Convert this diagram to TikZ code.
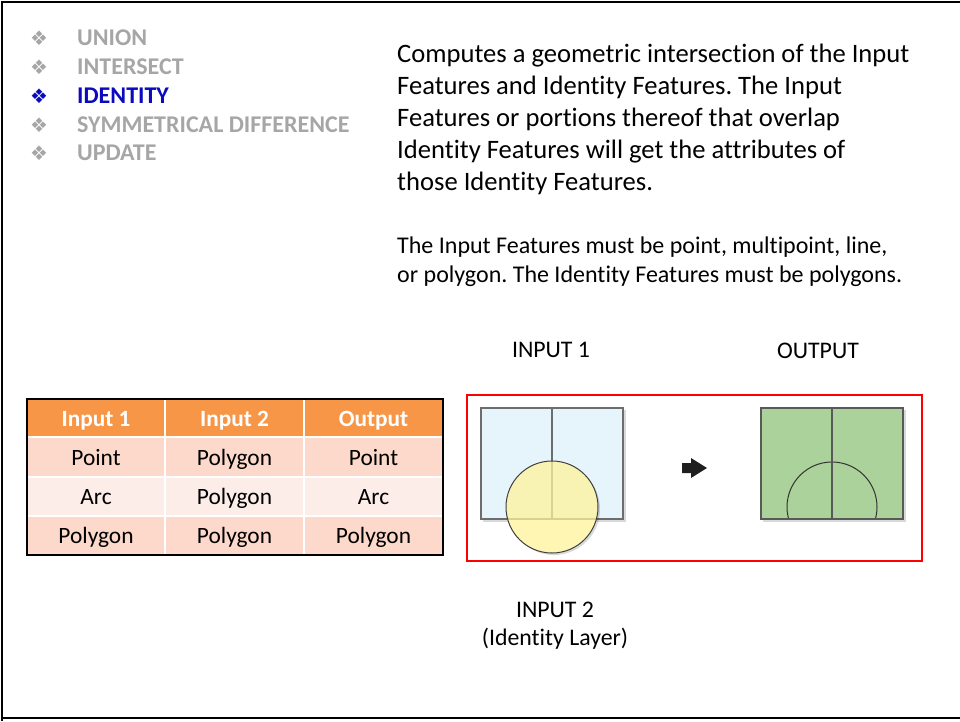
\documentclass[tikz,border=0pt]{standalone}
\usepackage{fontspec}
\setmainfont{Carlito}[Ligatures=NoCommon]
\newfontfamily\symfont{DejaVu Sans}
\frenchspacing
\definecolor{bulgray}{HTML}{A6A6A6}
\definecolor{bulblue}{HTML}{0A0ABF}
\definecolor{hdrorange}{HTML}{F79646}
\definecolor{rowA}{HTML}{FCD9CA}
\definecolor{rowB}{HTML}{FDEDE8}
\definecolor{polyblue}{HTML}{E6F4FC}
\definecolor{polygreen}{HTML}{AAD29A}
\definecolor{circyel}{HTML}{FFF39B}
\definecolor{edgegray}{HTML}{6D6D6D}
\definecolor{boxred}{HTML}{FF0000}
\tikzset{
  every node/.style={inner sep=0pt},
  bullet/.style={anchor=base, font=\symfont\fontsize{20}{20}\selectfont},
  menu/.style={anchor=base west, font=\bfseries\fontsize{24}{24}\selectfont},
  bigtxt/.style={anchor=base west, font=\fontsize{26.6}{30}\selectfont},
  smalltxt/.style={anchor=base west, font=\fontsize{24}{28}\selectfont},
  lbl/.style={anchor=base, font=\fontsize{23.8}{28}\selectfont},
  hdrcell/.style={fill=hdrorange, draw=white, line width=2pt},
  cellA/.style={fill=rowA, draw=white, line width=2pt},
  cellB/.style={fill=rowB, draw=white, line width=2pt},
  hdrtxt/.style={anchor=base, text=white, font=\bfseries\fontsize{23.3}{28}\selectfont},
  celltxt/.style={anchor=base, font=\fontsize{23.4}{28}\selectfont},
  shadow/.style={fill=black, fill opacity=0.15, draw=none},
  shapeedge/.style={draw=edgegray, line width=1.3pt}
}
\begin{document}
\begin{tikzpicture}[x=1pt,y=-1pt]
\useasboundingbox (0,0) rectangle (960,721);
% frame
\draw[line width=2pt] (2,721) -- (2,2) -- (960,2);
\draw[line width=2pt] (2,718) -- (960,718);

% menu list
\node[bullet, text=bulgray] (b1) at (39,45) {❖};
\node[bullet, text=bulgray] (b2) at (39,74) {❖};
\node[bullet, text=bulblue] (b3) at (39,103) {❖};
\node[bullet, text=bulgray] (b4) at (39,132) {❖};
\node[bullet, text=bulgray] (b5) at (39,160) {❖};
\node[menu, text=bulgray] (m1) at (77,45) {UNION};
\node[menu, text=bulgray] (m2) at (77,74) {INTERSECT};
\node[menu, text=bulblue] (m3) at (77,103) {IDENTITY};
\node[menu, text=bulgray] (m4) at (77,132) {SYMMETRICAL DIFFERENCE};
\node[menu, text=bulgray] (m5) at (77,160) {UPDATE};

% description
\node[bigtxt] (d1) at (397,62) {Computes a geometric intersection of the Input};
\node[bigtxt] (d2) at (397,94) {Features and Identity Features. The Input};
\node[bigtxt] (d3) at (397,126) {Features or portions thereof that overlap};
\node[bigtxt] (d4) at (397,158) {Identity Features will get the attributes of};
\node[bigtxt] (d5) at (397,190) {those Identity Features.};
\node[smalltxt] (e1) at (397,253) {The Input Features must be point, multipoint, line,};
\node[smalltxt] (e2) at (397,282) {or polygon. The Identity Features must be polygons.};

% labels
\node[lbl] (in1) at (551,357) {INPUT 1};
\node[lbl] (out) at (818,358) {OUTPUT};
\node[lbl] (in2) at (555,617) {INPUT 2};
\node[lbl] (in2b) at (555,645) {(Identity Layer)};

% table
\path[hdrcell] (27,399) rectangle (165,437);
\path[hdrcell] (165,399) rectangle (304,437);
\path[hdrcell] (304,399) rectangle (443,437);
\path[cellA] (27,437) rectangle (165,477);
\path[cellA] (165,437) rectangle (304,477);
\path[cellA] (304,437) rectangle (443,477);
\path[cellB] (27,477) rectangle (165,516);
\path[cellB] (165,477) rectangle (304,516);
\path[cellB] (304,477) rectangle (443,516);
\path[cellA] (27,516) rectangle (165,555);
\path[cellA] (165,516) rectangle (304,555);
\path[cellA] (304,516) rectangle (443,555);
\draw[line width=2pt] (27,399) rectangle (443,555);
\node[hdrtxt] (h1) at (96,426) {Input 1};
\node[hdrtxt] (h2) at (234.5,426) {Input 2};
\node[hdrtxt] (h3) at (373.5,426) {Output};
\node[celltxt] (c11) at (96,465) {Point};
\node[celltxt] (c12) at (234.5,465) {Polygon};
\node[celltxt] (c13) at (373.5,465) {Point};
\node[celltxt] (c21) at (96,504) {Arc};
\node[celltxt] (c22) at (234.5,504) {Polygon};
\node[celltxt] (c23) at (373.5,504) {Arc};
\node[celltxt] (c31) at (96,543) {Polygon};
\node[celltxt] (c32) at (234.5,543) {Polygon};
\node[celltxt] (c33) at (373.5,543) {Polygon};

% red box
\draw[boxred, line width=2pt] (467,395) rectangle (922,561);

% input 1 polygons with shadow
\path[shadow] (483,410) rectangle (626,522);
\path[fill=polyblue] (481,408) rectangle (623,519);
\draw[shapeedge] (481,408) rectangle (623,519);
\draw[shapeedge] (552,408) -- (552,519);
% identity circle
\path[shadow] (554,509) circle[radius=46];
\fill[white] (552,507) circle[radius=46];
\fill[polyblue] (552,507) circle[radius=46];
\begin{scope}
\clip (552,507) circle[radius=46];
\fill[white] (481,519) rectangle (623,560);
\draw[shapeedge] (481,408) rectangle (623,519);
\draw[shapeedge] (552,408) -- (552,519);
\end{scope}
\fill[circyel, fill opacity=0.75] (552,507) circle[radius=46];
\draw[draw=black!75, line width=1pt] (552,507) circle[radius=46];

% arrow
\fill[black!88] (682,463) -- (691,463) -- (691,458) -- (707,468) -- (691,478) -- (691,473) -- (682,473) -- cycle;

% output polygons
\path[shadow] (763,410) rectangle (906,522);
\path[fill=polygreen] (761,408) rectangle (903,519);
\begin{scope}
\clip (761,408) rectangle (903,519);
\draw[black!80, line width=1pt] (832,507) circle[radius=45];
\end{scope}
\draw[shapeedge, draw=black!65] (761,408) rectangle (903,519);
\draw[shapeedge, draw=black!65] (832,408) -- (832,519);
\end{tikzpicture}
\end{document}
